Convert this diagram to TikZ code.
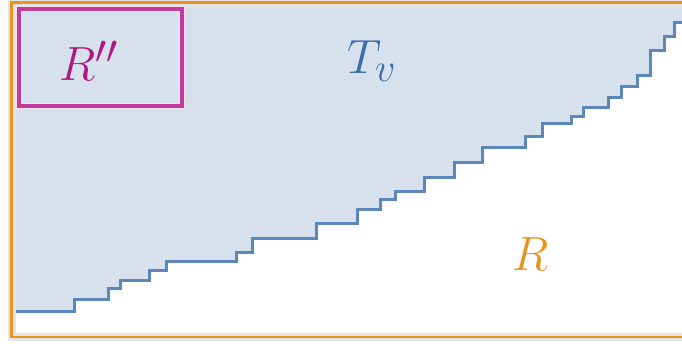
\documentclass[tikz,border=0pt]{standalone}
\definecolor{frameOrange}{RGB}{233,146,31}
\definecolor{treeBlue}{RGB}{92,135,186}
\definecolor{treeText}{RGB}{62,110,170}
\definecolor{treeFill}{RGB}{215,225,237}
\definecolor{boxMagenta}{RGB}{194,58,154}
\definecolor{labelMagenta}{RGB}{178,24,130}
\definecolor{haloGray}{RGB}{228,228,228}
\usepackage{tikz}
\usetikzlibrary{positioning}
\newcommand{\biglabel}[1]{\scalebox{1.93}{\Huge$#1$}}
\newcommand{\staircase}{(15,311) -| (74,299) -| (108,288) -| (120,280) -| (149,270) -| (166,261)
  -| (236,252) -| (252,238) -| (316,223) -| (357,209) -| (380,199) -| (395,191) -| (424,177)
  -| (454,162) -| (482,147) -| (525,136) -| (542,123) -| (571,116) -| (583,107) -| (608,97)
  -| (621,86) -| (637,75) -| (650,50) -| (664,36) -| (674,22) -- (682,22)}

\begin{document}
\begin{tikzpicture}[x=1pt, y=-1pt]
  \useasboundingbox (0,0) rectangle (682,343);
  % Shaded region
  \fill[treeFill] \staircase -- (682,7) -- (15,7) -- cycle;
  \draw[treeBlue, line width=3pt] \staircase;
  % Outer frame
  \draw[haloGray, line width=8pt] (11.5,2.5) rectangle (700,337);
  \draw[frameOrange, line width=2.8pt] (11.5,2.5) rectangle (700,337);
  % Inner box
  \draw[white!85!boxMagenta, line width=5.5pt] (19,9) rectangle (182,106);
  \node[draw=boxMagenta, line width=3.2pt, minimum width=163pt, minimum height=97pt,
    inner sep=0pt, outer sep=0pt] (rpp) at (100.5,57.5) {};
  % Labels
  \node[text=labelMagenta] (rpplabel) at (89,61) {\biglabel{R''}};
  \node[text=treeText] (tv) at (372,61) {\biglabel{T_v}};
  \node[text=frameOrange] (r) at (531,254) {\biglabel{R}};
\end{tikzpicture}
\end{document}
